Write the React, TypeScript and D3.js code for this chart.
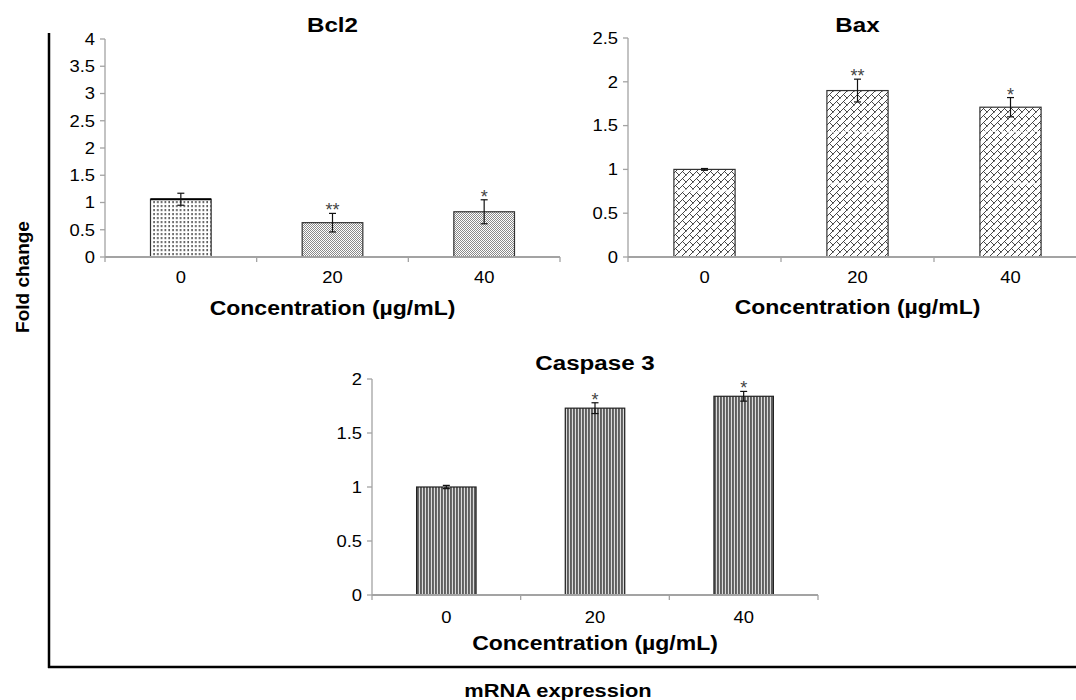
import React from "react";
import * as d3 from "d3";

// concentrations (µg/mL)
const concentrations = ["0", "20", "40"];

const bcl2Values = [1.06, 0.63, 0.83];
const bcl2Errors = [0.11, 0.17, 0.22];
const bcl2Marks = ["", "**", "*"];
const bcl2Ticks = [0, 0.5, 1, 1.5, 2, 2.5, 3, 3.5, 4];

const baxValues = [1.0, 1.9, 1.71];
const baxErrors = [0.01, 0.13, 0.11];
const baxMarks = ["", "**", "*"];
const baxTicks = [0, 0.5, 1, 1.5, 2, 2.5];
// faint white dashes seen across the Bax bars
const baxStreaks = [[0.76], [0.84, 1.43], [0.84, 1.43]];

const casp3Values = [1.0, 1.73, 1.84];
const casp3Errors = [0.015, 0.05, 0.045];
const casp3Marks = ["", "*", "*"];
const casp3Ticks = [0, 0.5, 1, 1.5, 2];

const FONT = "'Liberation Sans', Arial, Helvetica, sans-serif";
const AXIS = "#a3a3a3";

const T = ({ x, y, size, bold = false, anchor = "middle", fill = "#000", children }: any) => (
  <text
    transform={`translate(${x},${y}) scale(1.15,1)`}
    fontSize={size}
    fontWeight={bold ? "bold" : "normal"}
    textAnchor={anchor}
    fontFamily={FONT}
    fill={fill}
  >
    {children}
  </text>
);

const Panel = (props: any) => {
  const { title, values, errors, marks, ticks, x0, x1, yTop, yBottom, fill, barStroke, titleY, tickY, labelY, topStroke, streaks } = props;

  const x = d3.scaleBand()
    .domain(concentrations)
    .range([x0, x1])
    .paddingInner(0.6)
    .paddingOuter(0.3);

  const y = d3.scaleLinear()
    .domain([0, d3.max(ticks) as number])
    .range([yBottom, yTop]);

  const bounds = d3.range(concentrations.length + 1).map(i => x0 + i * x.step());
  const cx = (d: string) => (x(d) as number) + x.bandwidth() / 2;

  return (
    <g>
      <T x={(x0 + x1) / 2} y={titleY} size={21} bold>{title}</T>

      {/* y axis */}
      <line x1={x0} x2={x0} y1={y(d3.max(ticks) as number)} y2={yBottom} stroke={AXIS} strokeWidth={1.3} />
      {ticks.map((t: number) => (
        <g key={t}>
          <line x1={x0 - 5} x2={x0} y1={y(t)} y2={y(t)} stroke={AXIS} strokeWidth={1.3} />
          <T x={x0 - 10} y={y(t) + 5.8} size={16} anchor="end">{String(t)}</T>
        </g>
      ))}

      {/* bars */}
      {concentrations.map((c, i) => (
        <g key={c}>
          <rect
            x={x(c)}
            y={y(values[i])}
            width={x.bandwidth()}
            height={yBottom - y(values[i])}
            fill={`url(#${fill[i]})`}
            stroke={barStroke}
            strokeWidth={1.2}
          />
          {streaks && streaks[i].map((s: number) => (
            <line key={s} x1={(x(c) as number) + 3} x2={(x(c) as number) + x.bandwidth() - 3} y1={y(s)} y2={y(s)}
              stroke="#fff" strokeWidth={2} strokeDasharray="4 2" opacity={0.85} />
          ))}
          {topStroke && topStroke[i] && (
            <line x1={x(c)} x2={(x(c) as number) + x.bandwidth()} y1={y(values[i])} y2={y(values[i])} stroke="#000" strokeWidth={2.2} />
          )}
        </g>
      ))}

      {/* x axis */}
      <line x1={x0} x2={x1} y1={yBottom} y2={yBottom} stroke={AXIS} strokeWidth={2} />
      {bounds.map((b, i) => (
        <line key={i} x1={b} x2={b} y1={yBottom} y2={yBottom + 5} stroke={AXIS} strokeWidth={1.3} />
      ))}

      {/* error bars and significance marks */}
      {concentrations.map((c, i) => {
        const hi = y(values[i] + errors[i]);
        const lo = y(values[i] - errors[i]);
        return (
          <g key={c}>
            <g stroke="#111" strokeWidth={1.2}>
              <line x1={cx(c)} x2={cx(c)} y1={hi} y2={lo} />
              <line x1={cx(c) - 3.5} x2={cx(c) + 3.5} y1={hi} y2={hi} />
              <line x1={cx(c) - 3.5} x2={cx(c) + 3.5} y1={lo} y2={lo} />
            </g>
            {marks[i] && (
              <text x={cx(c)} y={hi + 3} fontSize={18} textAnchor="middle" fontFamily={FONT} fill="#444">{marks[i]}</text>
            )}
          </g>
        );
      })}

      {concentrations.map(c => (
        <T key={c} x={cx(c)} y={tickY} size={16}>{c}</T>
      ))}
      <T x={(x0 + x1) / 2} y={labelY} size={20} bold>Concentration (µg/mL)</T>
    </g>
  );
};

export default function App() {
  return (
    <svg width={1076} height={700} style={{ position: "absolute", left: 0, top: 0, background: "#fff" }}>
      <defs>
        <pattern id="dash" patternUnits="userSpaceOnUse" width={3.8} height={4}>
          <rect width={3.8} height={4} fill="#fff" />
          <rect x={1.4} y={1} width={1.2} height={2.2} fill="#222" />
        </pattern>
        <pattern id="fine" patternUnits="userSpaceOnUse" width={2} height={2}>
          <rect width={2} height={2} fill="#fff" />
          <rect x={0} y={0} width={1} height={1} fill="#8a8a8a" />
          <rect x={1} y={1} width={1} height={1} fill="#8a8a8a" />
        </pattern>
        <pattern id="brick" patternUnits="userSpaceOnUse" width={7} height={7}>
          <rect width={7} height={7} fill="#fff" />
          <path d="M-1,8 L8,-1 M3.5,3.5 L7.5,7.5 M-0.5,-0.5 L0.5,0.5" stroke="#333" strokeWidth={0.9} fill="none" />
        </pattern>
        <pattern id="stripe" patternUnits="userSpaceOnUse" width={3} height={4}>
          <rect width={3} height={4} fill="#dcdcdc" />
          <rect x={0} width={1.9} height={4} fill="#5e5e5e" />
        </pattern>
      </defs>

      {/* outer frame */}
      <line x1={49} x2={49} y1={33} y2={668} stroke="#000" strokeWidth={2.5} />
      <line x1={48} x2={1076} y1={667} y2={667} stroke="#000" strokeWidth={2.5} />
      <text transform="translate(29,277) rotate(-90)" textAnchor="middle" fontSize={19} fontWeight="bold" fontFamily={FONT}>Fold change</text>
      <T x={558} y={697} size={19} bold>mRNA expression</T>

      <Panel
        title="Bcl2"
        values={bcl2Values}
        errors={bcl2Errors}
        marks={bcl2Marks}
        ticks={bcl2Ticks}
        x0={105}
        x1={560}
        yTop={39}
        yBottom={257}
        fill={["dash", "fine", "fine"]}
        topStroke={[true, false, false]}
        barStroke="#333"
        titleY={32}
        tickY={283}
        labelY={315}
      />
      <Panel
        title="Bax"
        values={baxValues}
        errors={baxErrors}
        marks={baxMarks}
        ticks={baxTicks}
        x0={628}
        x1={1087}
        yTop={38}
        yBottom={257}
        fill={["brick", "brick", "brick"]}
        streaks={baxStreaks}
        barStroke="#333"
        titleY={32}
        tickY={283}
        labelY={314}
      />
      <Panel
        title="Caspase 3"
        values={casp3Values}
        errors={casp3Errors}
        marks={casp3Marks}
        ticks={casp3Ticks}
        x0={372}
        x1={818}
        yTop={379}
        yBottom={595}
        fill={["stripe", "stripe", "stripe"]}
        barStroke="#222"
        titleY={370}
        tickY={623}
        labelY={650}
      />
    </svg>
  );
}
